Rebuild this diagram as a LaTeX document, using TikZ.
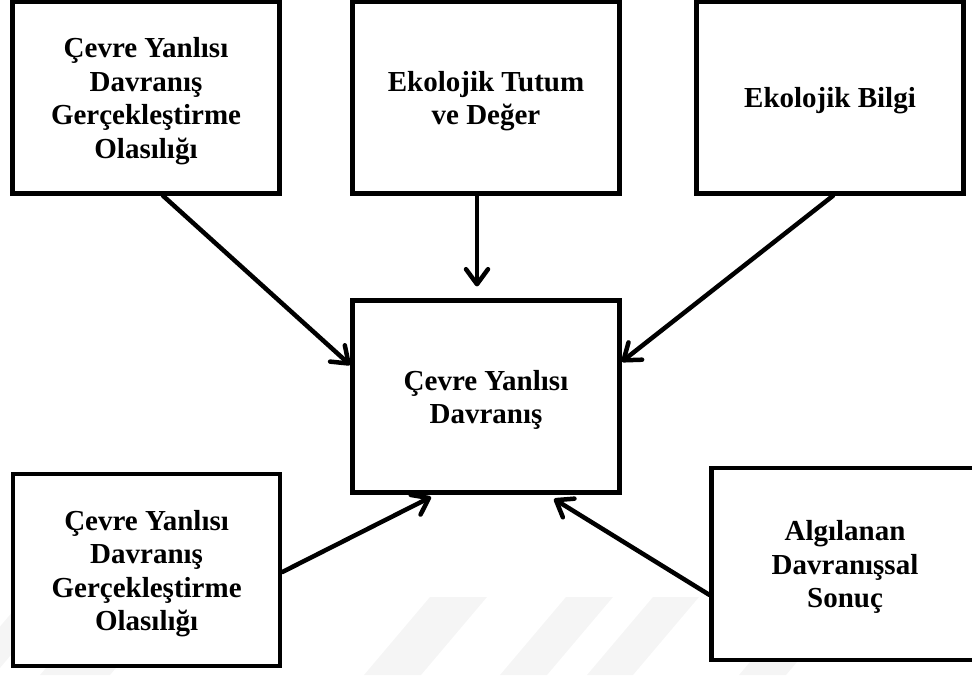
\documentclass[tikz,border=0pt]{standalone}
\usepackage{fontspec}
\setmainfont{Liberation Serif}
\usetikzlibrary{arrows.meta}

% extra room above the first line of each box text
\newcommand{\firstlinegap}{\rule{0pt}{27pt}}

\tikzset{
  factor/.style={draw=black, line width=4.5pt, fill=white, rectangle,
    minimum width=267pt, minimum height=192pt, align=center, inner sep=0pt,
    font=\bfseries\fontsize{29}{33.5}\selectfont, line join=miter},
  influence/.style={line width=4.5pt, line cap=round,
    -{Straight Barb[length=15pt, width=22pt, line cap=round, line join=round]}},
  stripe/.style={fill=black!4, draw=none}
}

\begin{document}
\begin{tikzpicture}[x=1pt, y=-1pt]
  \useasboundingbox (0,0) rectangle (972,675);

  % faint slanted background bands
  \fill[stripe] (25,597) -- (60,597) -- (-6,675) -- (-41,675) -- cycle;
  \fill[stripe] (106,597) -- (176,597) -- (110,675) -- (40,675) -- cycle;
  \fill[stripe] (430,597) -- (487,597) -- (421,675) -- (364,675) -- cycle;
  \fill[stripe] (566,597) -- (613,597) -- (547,675) -- (500,675) -- cycle;
  \fill[stripe] (653,597) -- (699,597) -- (633,675) -- (587,675) -- cycle;
  \fill[stripe] (805,597) -- (852,597) -- (786,675) -- (739,675) -- cycle;

  % factor boxes
  \node[factor] (likelihood) at (146,97.5)
    {\firstlinegap Çevre Yanlısı\\Davranış\\Gerçekleştirme\\Olasılığı};
  \node[factor] (attitude) at (486,97.5) {\firstlinegap Ekolojik Tutum\\ve Değer};
  \node[factor] (knowledge) at (830,97.5) {\firstlinegap Ekolojik Bilgi};
  \node[factor] (behaviour) at (486,396.7) {\firstlinegap Çevre Yanlısı\\Davranış};
  \node[factor] (likelihoodb) at (146.6,570)
    {\firstlinegap Çevre Yanlısı\\Davranış\\Gerçekleştirme\\Olasılığı};
  \node[factor] (outcome) at (845,563.8) {\firstlinegap Algılanan\\Davranışsal\\Sonuç};

  % influences on behaviour
  \draw[influence] ([xshift=17pt]likelihood.south) -- ([yshift=31.7pt]behaviour.west);
  \draw[influence] ([xshift=-9pt]attitude.south) -- ([xshift=-9pt,yshift=12pt]behaviour.north);
  \draw[influence] ([xshift=3pt]knowledge.south) -- ([yshift=35pt]behaviour.east);
  \draw[influence] ([yshift=-2pt]likelihoodb.east) -- ([xshift=-55pt,yshift=-2pt]behaviour.south);
  \draw[influence] ([yshift=-31pt]outcome.west) -- ([xshift=68pt,yshift=-4pt]behaviour.south);
\end{tikzpicture}
\end{document}
